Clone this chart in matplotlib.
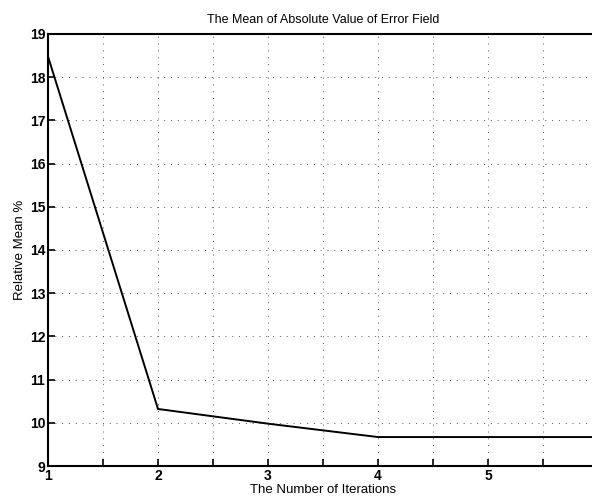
import numpy as np
import matplotlib
matplotlib.use('Agg')
import matplotlib.pyplot as plt

plt.rcParams['font.family'] = ['Liberation Sans', 'DejaVu Sans']

iterations = [1, 2, 3, 4, 5, 6]
rel_mean = [18.48, 10.32, 9.98, 9.67, 9.67, 9.67]

fig = plt.figure(figsize=(5.92, 5.01), dpi=100)
ax = fig.add_axes([48 / 592, 35 / 501, 550 / 592, 432 / 501])

ax.plot(iterations, rel_mean, color='black', linewidth=1.4)

ax.set_xlim(1, 6)
ax.set_ylim(9, 19)
ax.set_xticks(np.arange(1, 6.01, 0.5))
ax.set_xticklabels(['1', '', '2', '', '3', '', '4', '', '5', '', ''])
ax.set_yticks(np.arange(9, 19.01, 1))
ax.grid(True, color='#555555', linestyle=(0, (1, 6)), linewidth=0.7)
ax.tick_params(direction='in', length=5, width=1.2, labelsize=10, pad=2)
for lbl in ax.get_xticklabels() + ax.get_yticklabels():
    lbl.set_fontweight('bold')
for s in ax.spines.values():
    s.set_linewidth(1.5)

ax.set_title('The Mean of Absolute Value of Error Field', fontsize=9, pad=8)
ax.set_xlabel('The Number of Iterations', fontsize=9.5, labelpad=1)
ax.set_ylabel('Relative Mean %', fontsize=9.5, labelpad=3)

fig.savefig('out.png', dpi=100)
